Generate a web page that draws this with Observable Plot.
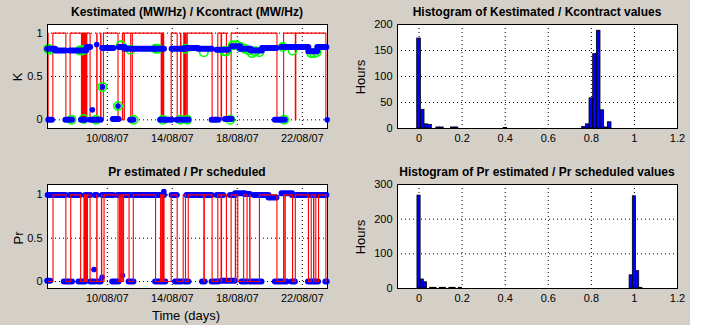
<!DOCTYPE html>
<html><head><meta charset="utf-8">
<script src="https://cdn.jsdelivr.net/npm/d3@7"></script>
<script src="https://cdn.jsdelivr.net/npm/@observablehq/plot@0.6"></script>
<style>
html,body{margin:0;padding:0;background:#fff;}
#fig{position:absolute;left:0;top:0;width:690px;height:325px;background:#d4d0c8;font-family:"Liberation Sans",Arial,sans-serif;color:#000;}
.panel{position:absolute;}
.title{position:absolute;font-weight:bold;font-size:12px;line-height:14px;text-align:center;white-space:nowrap;}
.ylab{position:absolute;font-size:13px;line-height:15px;white-space:nowrap;transform:translate(-50%,-50%) rotate(-90deg);}
.xlab{position:absolute;font-size:13px;line-height:15px;white-space:nowrap;transform:translate(-50%,-50%);}
</style></head><body><div id="fig"></div>
<script>
// ---------- axes / ticks ----------
const timeDomain = [6.32, 23.55];                 // days of August 2007
const timeTicks = [10, 14, 18, 22];
const timeTickLabels = ["10/08/07", "14/08/07", "18/08/07", "22/08/07"];
const ratioTicks = [0, 0.5, 1];
const ratioTickLabels = ["0", "0.5", "1"];
const histTicks = [0, 0.2, 0.4, 0.6, 0.8, 1, 1.2];
const histTickLabels = ["0", "0.2", "0.4", "0.6", "0.8", "1", "1.2"];
const kHistYTicks = [0, 50, 100, 150, 200];
const prHistYTicks = [0, 100, 200, 300];

const titles = ["Kestimated (MW/Hz) / Kcontract (MW/Hz)", "Histogram of Kestimated / Kcontract values",
                "Pr estimated / Pr scheduled", "Histogram of Pr estimated / Pr scheduled values"];
const yLabels = ["K", "Hours", "Pr", "Hours"];
const xLabel = "Time (days)";

// ---------- K series (blue estimate runs) ----------
const kRunStart = [6.33, 6.82, 7.71, 8.76, 9.72, 10.74, 11.10, 12.97, 13.99, 14.81, 15.60, 16.76, 17.68, 18.20, 18.85, 19.55, 20.75, 22.40, 22.95,
                   6.40, 7.45, 8.41, 8.98, 9.40, 10.37, 11.44, 13.28, 13.69, 14.30, 16.45, 17.27, 20.34];
const kRunEnd   = [6.82, 7.45, 8.72, 8.98, 10.41, 11.10, 12.97, 13.52, 14.81, 15.60, 16.45, 17.47, 18.20, 18.85, 19.55, 20.44, 22.40, 22.95, 23.51,
                   6.62, 7.86, 8.67, 9.29, 9.62, 10.72, 11.64, 13.59, 13.99, 15.02, 16.86, 17.68, 20.95];
const kRunValue = [0.82, 0.80, 0.80, 0.84, 0.83, 0.84, 0.82, 0.82, 0.82, 0.83, 0.82, 0.81, 0.85, 0.82, 0.80, 0.83, 0.84, 0.79, 0.84,
                   0, 0, 0, 0, 0, 0.01, 0, 0, 0, 0, 0, 0.01, 0];
const kDotT = [9.08, 9.35, 9.70, 10.66, 23.53];
const kDotV = [0.115, 0.87, 0.38, 0.16, 0];
// flagged points (green circles)
const kFlagT = [6.36, 6.44, 7.80, 8.30, 8.45, 8.57, 8.55, 9.30, 9.70, 10.66, 10.84, 11.42, 11.62, 12.97, 13.12, 13.42, 14.50, 14.80, 14.92, 15.94,
                17.20, 17.32, 17.57, 17.72, 17.95, 18.20, 18.45, 18.70, 18.90, 19.10, 19.35, 20.80, 20.88, 21.40, 22.55, 22.72, 22.88];
const kFlagV = [0.82, 0.81, 0, 0.80, 0.80, 0.81, 0.01, 0, 0.38, 0.16, 0.86, 0.81, 0, 0.82, 0.82, 0, 0, 0.82, 0, 0.78,
                0.79, 0.79, 0, 0.86, 0.86, 0.84, 0.82, 0.80, 0.77, 0.79, 0.78, 0.84, 0, 0.80, 0.77, 0.77, 0.78];
// K contract flag (red step)
const kRedT = [6.32, 6.36, 6.65, 7.45, 7.71, 8.41, 8.47, 8.50, 8.56, 8.60, 8.66, 8.69, 8.74, 8.94, 9.35, 9.37, 9.59, 9.61, 9.76,
               10.66, 10.93, 11.03, 11.05, 11.44, 11.54, 13.32, 13.38, 13.42, 13.45, 13.47, 13.93, 14.30, 14.51, 14.53, 14.71, 14.75,
               14.80, 14.84, 14.92, 16.45, 16.80, 17.00, 17.03, 17.33, 17.62, 20.44, 20.85, 21.57, 21.60, 23.45, 23.55];
const kRedV = [1, 0, 1, 0, 1, 0, 1, 0, 1, 0, 1, 0, 1, 0, 1, 0, 1, 0, 1,
               0, 1, 0, 1, 0, 1, 0, 1, 0, 1, 0, 1, 0, 1, 0, 1, 0,
               1, 0, 1, 0, 1, 0, 1, 0, 1, 0, 1, 0, 1, 0, 0];
const kDenseStart = [8.41, 13.32, 14.71];
const kDenseEnd   = [8.74, 13.52, 14.92];

// ---------- Pr series ----------
const prRunStart = [6.36, 7.71, 8.67, 9.27, 9.70, 10.66, 11.60, 13.18, 13.99, 14.90, 16.76, 17.58, 17.90, 18.50, 19.05, 19.95, 20.75, 21.40, 22.49,
                    6.33, 7.35, 8.26, 8.98, 9.45, 10.33, 11.34, 12.97, 13.40, 14.20, 14.81, 15.86, 16.45, 17.06, 18.29, 18.80, 20.34, 21.36, 22.38, 23.45];
const prRunEnd   = [7.45, 8.36, 8.98, 9.37, 10.41, 11.44, 13.08, 13.52, 14.30, 16.45, 17.17, 17.90, 18.50, 18.80, 19.95, 20.44, 21.40, 22.30, 23.51,
                    6.52, 7.86, 8.67, 9.25, 9.62, 10.72, 11.64, 13.28, 13.60, 14.60, 15.02, 16.02, 16.86, 17.88, 18.60, 19.52, 21.06, 21.57, 23.00, 23.53];
const prRunValue = [1, 1, 1, 1, 1, 1, 1, 1, 1, 1, 1, 1, 1.02, 1.01, 1, 0.97, 1.02, 1, 1,
                    0.01, 0, 0, 0, 0, 0, 0, 0, 0, 0, 0, 0, 0, 0.01, 0, 0, 0, 0, 0, 0];
const prDotT = [9.18, 9.68, 10.93, 13.48];
const prDotV = [0.14, 0.05, 0.07, 1.04];
const prRedT = [6.32, 6.66, 7.45, 7.75, 8.36, 8.57, 8.60, 8.66, 8.70, 8.74, 8.76, 8.78, 8.94, 9.35, 9.37, 9.64, 9.66, 9.80,
                10.66, 10.76, 10.80, 10.88, 10.92, 11.00, 11.34, 11.60, 12.97, 13.28, 13.32, 13.40, 13.44, 13.47, 13.49, 13.93,
                14.30, 14.67, 14.81, 14.98, 15.94, 15.97, 16.45, 16.80, 17.00, 17.03, 17.33, 17.62, 17.88, 17.90, 18.03, 18.39,
                18.60, 18.76, 18.78, 19.36, 20.44, 20.85, 20.93, 20.95, 21.40, 21.57, 22.38, 22.55, 22.69, 22.71, 22.83, 23.00, 23.45, 23.55];
const prRedV = [0, 1, 0, 1, 0, 1, 0, 1, 0, 1, 0, 1, 0, 1, 0, 1, 0, 1,
                0, 1, 0, 1, 0, 1, 0, 1, 0, 1, 0, 1, 0, 1, 0, 1,
                0, 1, 0, 1, 0, 1, 0, 1, 0, 1, 0, 1, 0, 1, 0, 1,
                0, 1, 0, 1, 0, 1, 0, 1, 0, 1, 0, 1, 0, 1, 0, 1, 0, 0];
const prDenseStart = [8.57, 10.76, 13.28];
const prDenseEnd   = [8.78, 11.03, 13.52];

// ---------- histograms ----------
const kHistBinWidth = 0.017;
const kHistCenter = [0, 0.017, 0.034, 0.051, 0.089, 0.106, 0.157, 0.174, 0.401, 0.766, 0.783, 0.800, 0.817, 0.834, 0.851, 0.868, 0.885];
const kHistCount  = [173, 36, 8, 7, 2, 2, 2, 2, 1, 3, 8, 58, 143, 188, 35, 2, 12];
const prHistBinWidth = 0.0148;
const prHistCenter = [0, 0.0148, 0.0296, 0.059, 0.074, 0.104, 0.118, 0.148, 0.163, 0.192, 0.985, 1.0, 1.0148, 1.0296];
const prHistCount  = [268, 26, 18, 2, 2, 2, 2, 2, 2, 2, 38, 266, 50, 2];

// ---------- helpers ----------
const T0 = Date.UTC(2007, 6, 31), DAY = 864e5;
const toDate = d => new Date(T0 + d * DAY);
const fig = document.getElementById("fig");
const baseStyle = {background: "transparent", fontFamily: "'Liberation Sans', Arial, sans-serif", fontSize: "11px", color: "#000", overflow: "visible"};
const gridStyle = {stroke: "#000", strokeOpacity: 1, strokeWidth: 1, strokeDasharray: "1,3"};
const lookup = (vals, labels) => v => { const i = vals.findIndex(x => Math.abs(x - v) < 1e-9); return i < 0 ? "" : labels[i]; };

function place(el, left, top) { el.classList.add("panel"); el.style.left = left + "px"; el.style.top = top + "px"; fig.appendChild(el); }
function addText(cls, txt, css) { const d = document.createElement("div"); d.className = cls; d.textContent = txt; Object.assign(d.style, css); fig.appendChild(d); }

function seriesPanel(s) {
  const runs = s.runS.map((v, i) => ({t0: toDate(v), t1: toDate(s.runE[i]), v: s.runV[i]}));
  const dots = s.dotT.map((v, i) => ({t: toDate(v), v: s.dotV[i]}));
  const flags = (s.flagT || []).map((v, i) => ({t: toDate(v), v: s.flagV[i]}));
  const red = s.redT.map((v, i) => ({t: toDate(v), v: s.redV[i]}));
  const dense = s.denseS.map((v, i) => ({t0: toDate(v), t1: toDate(s.denseE[i])}));
  const lo = d3.min(s.redV), hi = d3.max(s.redV);
  const redMarks = [
    Plot.rect(dense, {x1: "t0", x2: "t1", y1: () => lo, y2: () => hi, fill: "#ff0000", fillOpacity: 0.35}),
    Plot.line(red, {x: "t", y: "v", curve: "step-after", stroke: "#ff0000", strokeWidth: 1.1})
  ];
  const blueMarks = [
    Plot.dot(flags, {x: "t", y: "v", r: 4.2, stroke: "#00ff00", strokeWidth: 1.6, fill: "none"}),
    Plot.ruleY(runs, {y: "v", x1: "t0", x2: "t1", stroke: "#0000ff", strokeWidth: 6, strokeLinecap: "round"}),
    Plot.dot(dots, {x: "t", y: "v", r: 2.8, fill: "#0000ff", stroke: "none"})
  ];
  return Plot.plot({
    width: 345, height: 150, marginLeft: 47, marginRight: 18, marginTop: 24, marginBottom: 22,
    x: {type: "utc", domain: timeDomain.map(toDate)},
    y: {domain: s.yDomain},
    style: baseStyle,
    marks: [
      Plot.frame({fill: "white"}),
      Plot.gridX({ticks: timeTicks.map(toDate), ...gridStyle}),
      Plot.gridY({ticks: ratioTicks, ...gridStyle}),
      ...(s.redOnTop ? [...blueMarks, ...redMarks] : [...redMarks, ...blueMarks]),
      Plot.axisX({ticks: timeTicks.map(toDate), tickSize: 0, tickPadding: 6, label: null,
                  tickFormat: d => lookup(timeTicks, timeTickLabels)(Math.round((d - T0) / DAY))}),
      Plot.axisY({ticks: ratioTicks, tickSize: 0, tickPadding: 5, label: null, tickFormat: lookup(ratioTicks, ratioTickLabels)}),
      Plot.frame({stroke: "#000", fill: "none"})
    ]
  });
}

function histPanel(centers, counts, w, yDomain, yTicks) {
  const bins = centers.map((c, i) => ({x1: c - w / 2, x2: c + w / 2, n: counts[i]}));
  return Plot.plot({
    width: 345, height: 150, marginLeft: 52, marginRight: 13, marginTop: 24, marginBottom: 22,
    x: {domain: [-0.1, 1.2]},
    y: {domain: yDomain},
    style: baseStyle,
    marks: [
      Plot.frame({fill: "white"}),
      Plot.gridX({ticks: histTicks, ...gridStyle}),
      Plot.gridY({ticks: yTicks, ...gridStyle}),
      Plot.rectY(bins, {x1: "x1", x2: "x2", y: "n", fill: "#0000ff", stroke: "#000", strokeWidth: 0.8, inset: 0}),
      Plot.axisX({ticks: histTicks, tickSize: 0, tickPadding: 6, label: null, tickFormat: lookup(histTicks, histTickLabels)}),
      Plot.axisY({ticks: yTicks, tickSize: 0, tickPadding: 5, label: null, tickFormat: d => String(d)}),
      Plot.frame({stroke: "#000", fill: "none"})
    ]
  });
}

// ---------- build ----------
place(seriesPanel({runS: kRunStart, runE: kRunEnd, runV: kRunValue, dotT: kDotT, dotV: kDotV, flagT: kFlagT, flagV: kFlagV,
                   redT: kRedT, redV: kRedV, denseS: kDenseStart, denseE: kDenseEnd, redOnTop: false, yDomain: [-0.1, 1.1]}), 0, 0);
place(histPanel(kHistCenter, kHistCount, kHistBinWidth, [0, 200], kHistYTicks), 345, 0);
place(seriesPanel({runS: prRunStart, runE: prRunEnd, runV: prRunValue, dotT: prDotT, dotV: prDotV,
                   redT: prRedT, redV: prRedV, denseS: prDenseStart, denseE: prDenseEnd, redOnTop: true, yDomain: [-0.08, 1.12]}), 0, 160);
place(histPanel(prHistCenter, prHistCount, prHistBinWidth, [0, 300], prHistYTicks), 345, 160);

addText("title", titles[0], {left: "47px", width: "280px", top: "5px"});
addText("title", titles[1], {left: "397px", width: "280px", top: "5px"});
addText("title", titles[2], {left: "47px", width: "280px", top: "165px"});
addText("title", titles[3], {left: "397px", width: "280px", top: "165px"});
addText("ylab", yLabels[0], {left: "17px", top: "77px"});
addText("ylab", yLabels[1], {left: "360px", top: "77px"});
addText("ylab", yLabels[2], {left: "18px", top: "238px"});
addText("ylab", yLabels[3], {left: "360px", top: "237px"});
addText("xlab", xLabel, {left: "186px", top: "315px"});
</script></body></html>
